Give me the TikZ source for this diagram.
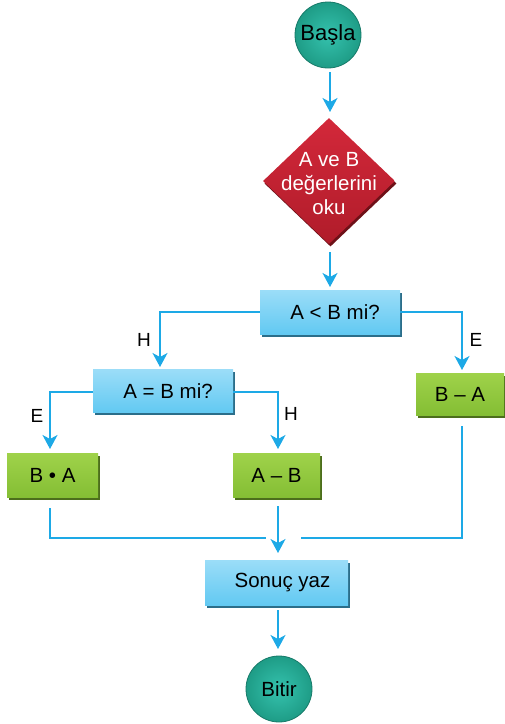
\documentclass[tikz,border=0pt]{standalone}
\usepackage{fontspec}
\setmainfont{Liberation Sans}
\usetikzlibrary{shapes.geometric,arrows.meta,shadows}
\definecolor{teal1}{HTML}{35C2AE}
\definecolor{teal2}{HTML}{1E9C86}
\definecolor{tealdark}{HTML}{177A69}
\definecolor{red1}{HTML}{D3283A}
\definecolor{red2}{HTML}{B01C2A}
\definecolor{reddark}{HTML}{6E1118}
\definecolor{blue1}{HTML}{9BDDF8}
\definecolor{blue2}{HTML}{62C9F2}
\definecolor{bluedark}{HTML}{2B6E8A}
\definecolor{green1}{HTML}{9FD24A}
\definecolor{green2}{HTML}{84BE34}
\definecolor{greendark}{HTML}{4C6E1C}
\definecolor{conn}{HTML}{1DA9E6}
\tikzset{
  txt/.style={font=\fontsize{20.5}{24}\selectfont},
  term/.style={circle, minimum size=66pt, inner sep=0pt, draw=tealdark, line width=0.8pt,
    inner color=teal1, outer color=teal2, txt},
  blubox/.style={rectangle, inner sep=0pt, top color=blue1, bottom color=blue2,
    drop shadow={shadow xshift=1.5pt, shadow yshift=-2.5pt, fill=bluedark, opacity=1}, txt},
  grnbox/.style={rectangle, inner sep=0pt, top color=green1, bottom color=green2,
    drop shadow={shadow xshift=1.5pt, shadow yshift=-2.5pt, fill=greendark, opacity=1}, txt},
  conline/.style={draw=conn, line width=1.7pt},
  arr/.style={conline, -{Stealth[length=14pt, width=15pt, inset=4pt]}},
  lbl/.style={font=\fontsize{19}{22}\selectfont, inner sep=0pt}
}
\begin{document}
\begin{tikzpicture}[x=1pt, y=-1pt]
\useasboundingbox (0,0) rectangle (505,724);
% nodes
\node[term, font=\fontsize{22}{26}\selectfont] (basla) at (328,35) {Başla};
\node[diamond, minimum width=132pt, minimum height=126pt, inner sep=0pt,
      top color=red1, bottom color=red2,
      drop shadow={shadow xshift=1.5pt, shadow yshift=-2.5pt, fill=reddark, opacity=1}] (oku) at (329,181) {};
\node[text=white, align=center, font=\fontsize{20.5}{24}\selectfont] (okut) at (329,184) {A ve B\\değerlerini\\oku};
\node[blubox, minimum width=140pt, minimum height=44pt] (q1) at (330,312) {\hspace*{10pt}A < B mi?};
\node[blubox, minimum width=140pt, minimum height=43pt] (q2) at (163,391) {\hspace*{10pt}A = B mi?};
\node[grnbox, minimum width=91pt, minimum height=44pt] (ba) at (52.5,475.5) {B • A};
\node[grnbox, minimum width=87pt, minimum height=44pt] (amb) at (276.5,475.5) {A – B};
\node[grnbox, minimum width=88pt, minimum height=42pt] (bma) at (460,394) {B – A};
\node[blubox, minimum width=143pt, minimum height=45pt] (son) at (276.5,582.5) {\hspace*{12pt}Sonuç yaz};
\node[term] (bitir) at (279,689) {Bitir};
% coordinates
\coordinate (c1a) at (330,72);
\coordinate (c1b) at (330,112);
\coordinate (c2a) at (330,252);
\coordinate (c2b) at (330,287);
\coordinate (hl) at (160,312);
\coordinate (hlt) at (160,367);
\coordinate (er) at (462,312);
\coordinate (ert) at (462,370);
\coordinate (el) at (50,392);
\coordinate (elt) at (50,449);
\coordinate (hr) at (278,392);
\coordinate (hrt) at (278,449);
\coordinate (bas) at (50,508);
\coordinate (bac) at (50,538);
\coordinate (bae) at (266,538);
\coordinate (ams) at (278,506);
\coordinate (amt) at (278,553);
\coordinate (bms) at (462,426);
\coordinate (bmc) at (462,538);
\coordinate (bme) at (301,538);
\coordinate (sos) at (278,610);
\coordinate (sot) at (278,649);
% connectors
\draw[arr] (c1a) -- (c1b);
\draw[arr] (c2a) -- (c2b);
\draw[arr] (q1.west |- hl) -- (hl) -- (hlt);
\draw[arr] (q1.east |- er) -- (er) -- (ert);
\draw[arr] (q2.west |- el) -- (el) -- (elt);
\draw[arr] (q2.east |- hr) -- (hr) -- (hrt);
\draw[conline] (bas) -- (bac) -- (bae);
\draw[arr] (ams) -- (amt);
\draw[conline] (bms) -- (bmc) -- (bme);
\draw[arr] (sos) -- (sot);
% labels
\node[lbl] (lh1) at (144,340) {H};
\node[lbl] (le1) at (476,340) {E};
\node[lbl] (le2) at (37,416) {E};
\node[lbl] (lh2) at (291,414) {H};
\end{tikzpicture}
\end{document}
